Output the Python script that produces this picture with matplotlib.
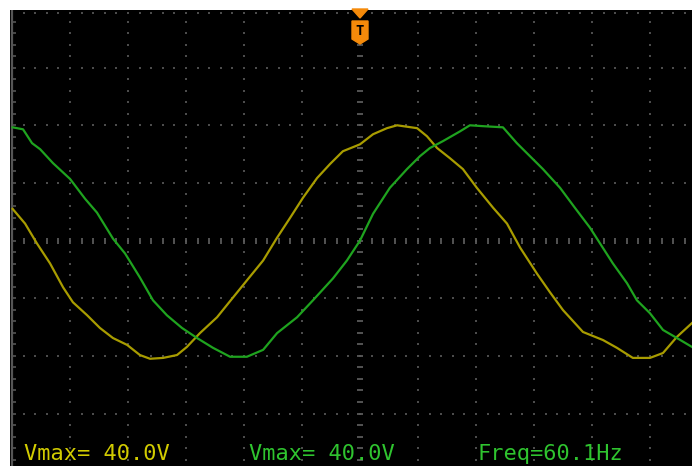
import numpy as np
import matplotlib
matplotlib.use("Agg")
import matplotlib.pyplot as plt
from matplotlib.patches import Polygon

# channel 1 (yellow), time in ms, voltage in V (2 ms/div, 20 V/div)
ch1_t = [-11.98, -11.55, -11.14, -10.69, -10.24, -9.90, -9.41, -8.97, -8.52, -8.03,
         -7.59, -7.24, -6.79, -6.31, -5.97, -5.52, -4.93, -4.48, -3.90, -3.34,
         -2.86, -2.41, -1.97, -1.48, -1.03, -0.59, 0.0, 0.45, 0.93, 1.28,
         1.97, 2.31, 2.66, 3.10, 3.55, 4.03, 4.59, 5.07, 5.52, 6.10,
         6.55, 7.00, 7.69, 8.38, 8.86, 9.41, 10.0, 10.45, 10.93, 11.45]
ch1_v = [11.0, 5.9, -1.0, -7.9, -16.2, -21.4, -25.9, -30.3, -33.8, -36.2,
         -39.7, -41.0, -40.7, -39.7, -36.9, -32.1, -26.6, -21.0, -13.8, -6.9,
         1.0, 7.9, 14.8, 21.7, 26.6, 31.0, 33.4, 36.9, 39.0, 40.0,
         39.0, 36.2, 32.1, 28.6, 24.8, 18.3, 11.4, 5.9, -2.4, -11.4,
         -17.9, -24.1, -31.7, -34.5, -37.2, -40.7, -40.7, -39.0, -33.4, -28.6]

# channel 2 (green)
ch2_t = [-11.98, -11.62, -11.31, -11.03, -10.59, -10.0, -9.48, -9.07, -8.52, -8.10,
         -7.59, -7.14, -6.66, -6.14, -5.62, -5.07, -4.48, -3.90, -3.34, -2.86,
         -2.17, -1.62, -0.93, -0.45, 0.0, 0.45, 1.03, 1.62, 2.07, 2.41,
         2.86, 3.45, 3.79, 4.24, 4.93, 5.41, 5.86, 6.31, 6.90, 7.41,
         7.93, 8.28, 8.72, 9.21, 9.55, 10.0, 10.45, 10.93, 11.45]
ch2_v = [39.3, 38.6, 33.8, 31.7, 26.9, 21.4, 14.5, 9.7, 0.7, -4.5,
         -12.8, -20.7, -25.9, -30.3, -33.8, -37.2, -40.3, -40.3, -37.9, -32.1,
         -26.6, -20.7, -13.1, -6.9, 0.0, 9.3, 18.3, 24.8, 29.3, 32.1,
         34.5, 37.9, 40.0, 39.7, 39.3, 33.8, 29.3, 24.8, 18.3, 11.4,
         4.5, -1.0, -7.9, -14.8, -20.7, -25.2, -31.0, -33.8, -36.9]

readouts = ["Vmax= 40.0V", "Vmax= 40.0V", "Freq=60.1Hz"]

W, H = 692, 466
fig = plt.figure(figsize=(W / 100, H / 100), dpi=100, facecolor="white")
ax = fig.add_axes([10 / W, 0, (W - 10) / W, (H - 10) / H])
ax.set_facecolor("black")
ax.set_xlim(-12.07, 11.45)
ax.set_ylim(-78.2, 80)
ax.set_xticks([])
ax.set_yticks([])
for s in ax.spines.values():
    s.set_visible(False)

# graticule
dot = "#4c4c4c"
major_t = np.arange(-10, 11, 2)
major_v = np.arange(-60, 81, 20)
minor_t = np.arange(-12, 11.6, 0.4)
minor_v = np.arange(-76, 80, 4)
for t in major_t:
    if t == 0:
        continue
    ax.plot(np.full(len(minor_v), t), minor_v, "s", ms=1.6, color=dot, mew=0)
for v in major_v:
    if v == 0:
        continue
    vv = 79.0 if v == 80 else v
    ax.plot(minor_t, np.full(len(minor_t), vv), "s", ms=1.6, color=dot, mew=0)
ax.plot(minor_t, np.zeros(len(minor_t)), "|", ms=4, mew=1.3, color="#5a5a5a")
ax.plot(np.zeros(len(minor_v)), minor_v, "_", ms=5, mew=1.3, color="#5a5a5a")
ax.axvline(-12.0, color="#555555", lw=1.6)
ax.plot(np.full(len(minor_v), -11.93), minor_v, "_", ms=2.5, mew=1.2, color="#555555")

# traces
ax.plot(ch1_t, ch1_v, color="#a89c00", lw=1.6)
ax.plot(ch2_t, ch2_v, color="#1fa31f", lw=1.6)

# trigger marker
orange = "#f58a0a"
def fp(x, y):
    return (x / W, 1 - y / H)
fig.patches.append(Polygon([fp(352, 9), fp(368, 9), fp(360, 18)], closed=True,
                           transform=fig.transFigure, color=orange))
fig.patches.append(Polygon([fp(352, 21), fp(368, 21), fp(368, 39), fp(360, 44), fp(352, 39)],
                           closed=True, transform=fig.transFigure, color=orange))
fig.text(360 / W, 1 - 31 / H, "T", color="black", fontsize=10, fontweight="bold",
         ha="center", va="center", family="DejaVu Sans Mono")

# readouts
font = dict(fontsize=15.8, family="DejaVu Sans Mono", va="baseline")
fig.text(24 / W, 1 - 460 / H, readouts[0], color="#d2cc00", **font)
fig.text(249 / W, 1 - 460 / H, readouts[1], color="#2fc42f", **font)
fig.text(477 / W, 1 - 460 / H, readouts[2], color="#2fc42f", **font)

fig.savefig("out.png", dpi=100, facecolor="white")
